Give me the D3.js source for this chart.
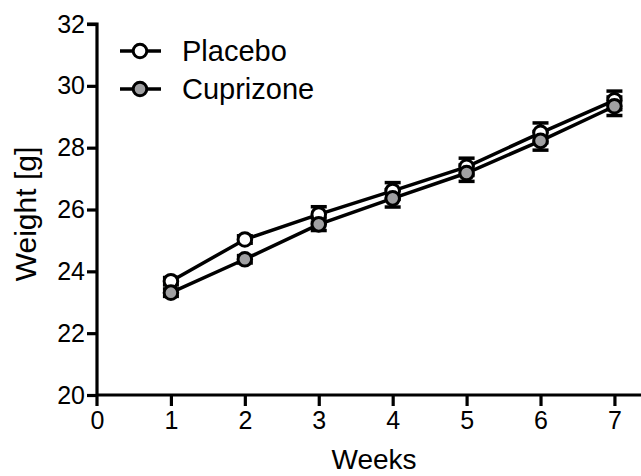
<!DOCTYPE html>
<html>
<head>
<meta charset="utf-8">
<script src="https://cdn.jsdelivr.net/npm/d3@7/dist/d3.min.js"></script>
<style>
  html, body { margin: 0; padding: 0; background: #fff; }
  svg { display: block; font-family: "Liberation Sans", Arial, sans-serif; }
</style>
</head>
<body>
<svg id="chart" width="641" height="476"></svg>
<script>
// Body weight over time, mean ± SEM
const weeks = [1, 2, 3, 4, 5, 6, 7];
const placeboMean = [23.68, 25.03, 25.84, 26.60, 27.38, 28.48, 29.53];
const placeboSem  = [0.12, 0.12, 0.25, 0.27, 0.28, 0.32, 0.30];
const cuprizoneMean = [23.31, 24.39, 25.52, 26.36, 27.18, 28.22, 29.34];
const cuprizoneSem  = [0.12, 0.12, 0.20, 0.28, 0.27, 0.30, 0.30];
const xTicks = [0, 1, 2, 3, 4, 5, 6, 7];
const yTicks = [20, 22, 24, 26, 28, 30, 32];

const series = [
  { name: "Placebo", mean: placeboMean, sem: placeboSem, fill: "#ffffff" },
  { name: "Cuprizone", mean: cuprizoneMean, sem: cuprizoneSem, fill: "#a0a0a2" }
];

const svg = d3.select("#chart");
const x = d3.scaleLinear().domain([0, 7.4]).range([97, 644]);
const y = d3.scaleLinear().domain([20, 32]).range([395, 24]);

// Axes
const xAxis = svg.append("g").attr("transform", `translate(0,${y(20)})`)
  .call(d3.axisBottom(x).tickValues(xTicks).tickSize(11).tickPadding(5).tickFormat(d3.format("d")));
const yAxis = svg.append("g").attr("transform", `translate(${x(0)},0)`)
  .call(d3.axisLeft(y).tickValues(yTicks).tickSize(10).tickPadding(2).tickFormat(d3.format("d")));

[xAxis, yAxis].forEach(g => {
  g.select(".domain").attr("stroke", "#000").attr("stroke-width", 3.2);
  g.selectAll(".tick line").attr("stroke", "#000").attr("stroke-width", 3.2);
  g.selectAll(".tick text").attr("fill", "#000").style("font-size", "25px")
    .style("font-family", "'Liberation Sans', Arial, sans-serif");
});
// y axis also runs down to the 0 tick; x axis spine starts at the y axis
yAxis.select(".domain").attr("d", `M-10,${y(32)}H0V${y(20) + 11}`);
xAxis.select(".domain").attr("d", `M${x(0)},0H641`);
xAxis.selectAll(".tick").filter(d => d === 0).select("line").remove();

// Axis titles
svg.append("text").attr("x", 374).attr("y", 469).attr("text-anchor", "middle")
  .style("font-size", "28px").text("Weeks");
svg.append("text").attr("transform", `translate(36,214) rotate(-90)`)
  .attr("text-anchor", "middle").style("font-size", "30px").text("Weight [g]");

const line = d3.line().x((d, i) => x(weeks[i])).y(d => y(d));

// Connecting lines
series.forEach(s => {
  svg.append("path").datum(s.mean).attr("d", line)
    .attr("fill", "none").attr("stroke", "#000").attr("stroke-width", 3.5);
});

// Error bars
const capW = 8;
series.forEach(s => {
  const g = svg.append("g").attr("stroke", "#000").attr("stroke-width", 3.5);
  weeks.forEach((w, i) => {
    const cx = x(w), top = y(s.mean[i] + s.sem[i]), bot = y(s.mean[i] - s.sem[i]);
    g.append("line").attr("x1", cx).attr("x2", cx).attr("y1", top).attr("y2", bot);
    g.append("line").attr("x1", cx - capW).attr("x2", cx + capW).attr("y1", top).attr("y2", top);
    g.append("line").attr("x1", cx - capW).attr("x2", cx + capW).attr("y1", bot).attr("y2", bot);
  });
});

// Markers
series.forEach(s => {
  svg.append("g").selectAll("circle").data(s.mean).join("circle")
    .attr("cx", (d, i) => x(weeks[i])).attr("cy", d => y(d)).attr("r", 6.8)
    .attr("fill", s.fill).attr("stroke", "#000").attr("stroke-width", 3);
});

// Legend
const legend = svg.append("g");
series.forEach((s, i) => {
  const ly = 51 + i * 38;
  legend.append("line").attr("x1", 120).attr("x2", 161).attr("y1", ly).attr("y2", ly)
    .attr("stroke", "#000").attr("stroke-width", 3.5);
  legend.append("circle").attr("cx", 140).attr("cy", ly).attr("r", 6.8)
    .attr("fill", s.fill).attr("stroke", "#000").attr("stroke-width", 3);
  legend.append("text").attr("x", 182).attr("y", ly + 10).style("font-size", "29px").text(s.name);
});
</script>
</body>
</html>
